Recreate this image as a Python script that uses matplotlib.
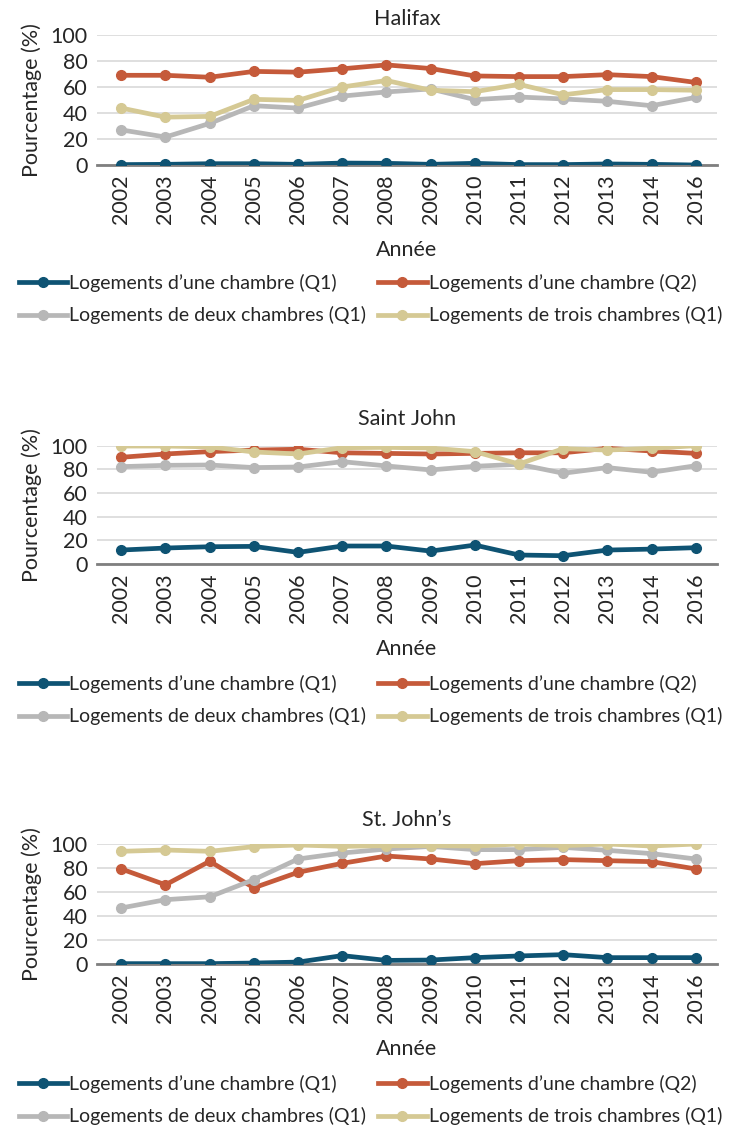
import matplotlib
matplotlib.use("Agg")
import matplotlib.pyplot as plt
from matplotlib.lines import Line2D

plt.rcParams['font.family'] = ['Lato', 'DejaVu Sans']

years = ["2002", "2003", "2004", "2005", "2006", "2007", "2008", "2009",
         "2010", "2011", "2012", "2013", "2014", "2016"]

series_names = ["Logements d\u2019une chambre (Q1)",
                "Logements d\u2019une chambre (Q2)",
                "Logements de deux chambres (Q1)",
                "Logements de trois chambres (Q1)"]
colors = ["#0E5373", "#C55A3A", "#B7B7B7", "#D5C994"]

# Halifax
halifax_1ch_q1 = [0.3, 0.5, 1, 1, 0.5, 1.5, 1.3, 0.5, 1.3, 0.3, 0.3, 0.8, 0.5, 0]
halifax_1ch_q2 = [69, 69, 67.5, 72, 71.4, 74, 77, 74.2, 68.5, 68, 68, 69.5, 68, 63.5]
halifax_2ch_q1 = [27, 21.5, 32, 45.6, 43.8, 53, 56.2, 58.5, 50.3, 52.3, 50.8, 49, 45.6, 52]
halifax_3ch_q1 = [43.8, 36.8, 37.4, 50.5, 49.7, 60, 65, 57.5, 56.4, 62, 54, 58, 58, 57.5]

# Saint John
sj_1ch_q1 = [11.8, 13.5, 14.6, 14.9, 9.8, 15.2, 15.2, 10.9, 16, 7.6, 7, 11.8, 12.6, 13.8]
sj_1ch_q2 = [90.2, 93, 95, 96.3, 97, 94, 93.5, 93, 93.5, 94, 94, 97.8, 95.5, 93.5]
sj_2ch_q1 = [82.3, 83.4, 83.7, 81.5, 82, 86.5, 82.9, 79.5, 82.6, 84.3, 76.7, 81.5, 77.5, 83.1]
sj_3ch_q1 = [99.7, 99.7, 99, 94.7, 93, 98.3, 98.6, 98, 95, 84.5, 97.5, 96.3, 97.8, 100]

# St. John's
sjs_1ch_q1 = [0.3, 0.3, 0.3, 0.8, 1.6, 7, 3, 3.3, 5.3, 6.7, 7.8, 5.3, 5.3, 5.3]
sjs_1ch_q2 = [79.2, 66, 85.6, 63.5, 76.4, 83.9, 90, 87.5, 83.6, 86.1, 87, 86.1, 85.3, 79.2]
sjs_2ch_q1 = [46.7, 53.6, 56, 70.3, 87.5, 92.5, 95.8, 98, 95.3, 95.3, 97.2, 94.7, 92, 87.5]
sjs_3ch_q1 = [93.9, 95, 93.9, 97.8, 99.2, 98, 98.6, 98.6, 98.3, 100, 98.6, 100, 98.3, 100]

panels = [
    ("Halifax", [halifax_1ch_q1, halifax_1ch_q2, halifax_2ch_q1, halifax_3ch_q1]),
    ("Saint John", [sj_1ch_q1, sj_1ch_q2, sj_2ch_q1, sj_3ch_q1]),
    ("St. John\u2019s", [sjs_1ch_q1, sjs_1ch_q2, sjs_2ch_q1, sjs_3ch_q1]),
]

W, H = 743, 1128
fig = plt.figure(figsize=(W / 100, H / 100), dpi=100)

# (top px of 100 line, bottom px of 0 line, legend top px, title pad pt)
boxes = [(35, 165, 266, 7), (445.7, 564, 667, 15), (844, 964, 1067, 13)]
left_px, right_px = 97, 717
FS = 15.5
TXT = '#262626'

x = list(range(len(years)))
order = [0, 2, 1, 3]  # row-major legend layout
for (title, data), (top, bot, leg_top, tpad) in zip(panels, boxes):
    ax = fig.add_axes([left_px / W, 1 - bot / H, (right_px - left_px) / W, (bot - top) / H])
    for vals, c in zip(data, colors):
        ax.plot(x, vals, color=c, lw=3.4, marker='o', ms=7, solid_capstyle='round', zorder=3)
    ax.set_ylim(0, 100)
    ax.set_xlim(-0.55, 13.48)
    ax.set_yticks([0, 20, 40, 60, 80, 100])
    ax.set_xticks(x)
    ax.set_xticklabels(years, rotation=90, fontsize=FS, color=TXT)
    ax.tick_params(axis='y', labelsize=FS, length=0, pad=7, colors=TXT)
    ax.tick_params(axis='x', length=0, pad=7)
    ax.grid(axis='y', color='#D9D9D9', lw=1.2, zorder=0)
    for s in ['top', 'right', 'left']:
        ax.spines[s].set_visible(False)
    ax.spines['bottom'].set_color('#7F7F7F')
    ax.spines['bottom'].set_linewidth(2)
    ax.set_title(title, fontsize=FS, pad=tpad, color=TXT)
    ax.set_ylabel("Pourcentage (%)", fontsize=FS, color=TXT, labelpad=6)
    ax.set_xlabel("Ann\u00e9e", fontsize=FS, color=TXT, labelpad=11)
    ax.set_axisbelow(True)

    handles = [Line2D([0], [0], color=c, lw=3.4, marker='o', ms=7) for c in colors]
    fig.legend([handles[i] for i in order], [series_names[i] for i in order],
               loc='upper left', ncol=2,
               bbox_to_anchor=(11 / W, 1 - leg_top / H), frameon=False,
               fontsize=14, handlelength=2.5, handletextpad=0.1,
               columnspacing=0.6, labelspacing=0.75, borderaxespad=0,
               labelcolor=TXT)

fig.savefig("out.png", dpi=100)
